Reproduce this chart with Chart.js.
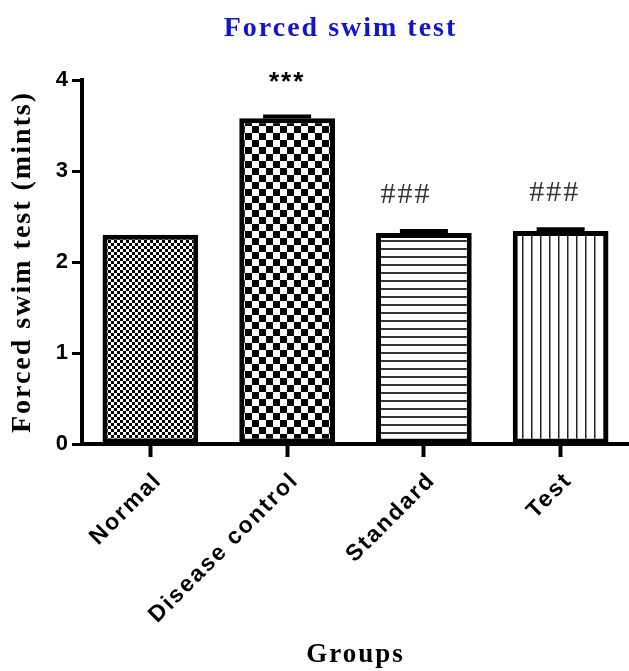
<!DOCTYPE html>
<html>
<head>
<meta charset="utf-8">
<title>Forced swim test</title>
<script src="https://cdn.jsdelivr.net/npm/chart.js@4.4.1/dist/chart.umd.min.js"></script>
<style>
  html, body { margin: 0; padding: 0; background: #fff; }
  #wrap { width: 629px; height: 671px; }
</style>
</head>
<body>
<div id="wrap"><canvas id="swimChart"></canvas></div>
<script>
// data
const groups = ['Normal', 'Disease control', 'Standard', 'Test'];
const meanMinutes = [2.30, 3.58, 2.32, 2.34];
const semMinutes = [0, 0.02, 0.02, 0.02];
const markers = ['', '***', '###', '###'];
const yTicks = [0, 1, 2, 3, 4];

const serif = '"Liberation Serif", "Times New Roman", serif';
const sans = '"Liberation Sans", Arial, sans-serif';

// fill patterns like the GraphPad bars
function makePattern(kind) {
  const c = document.createElement('canvas');
  const g = c.getContext('2d');
  if (kind === 'fineCheck' || kind === 'bigCheck') {
    const s = kind === 'fineCheck' ? 3 : 7;
    c.width = c.height = s * 2;
    g.fillStyle = '#fff';
    g.fillRect(0, 0, s * 2, s * 2);
    g.fillStyle = '#000';
    g.fillRect(0, 0, s, s);
    g.fillRect(s, s, s, s);
  } else if (kind === 'hLines') {
    c.width = 8; c.height = 8;
    g.fillStyle = '#fff';
    g.fillRect(0, 0, 8, 8);
    g.fillStyle = '#333';
    g.fillRect(0, 0, 8, 2);
  } else {
    c.width = 9; c.height = 8;
    g.fillStyle = '#fff';
    g.fillRect(0, 0, 9, 8);
    g.fillStyle = '#222';
    g.fillRect(0, 0, 1.5, 8);
  }
  return g.createPattern(c, 'repeat');
}

const fills = [makePattern('fineCheck'), makePattern('bigCheck'), makePattern('hLines'), makePattern('vLines')];

const swimDecor = {
  id: 'swimDecor',
  beforeLayout(chart) { chart.ctx.letterSpacing = '2px'; },
  beforeDraw(chart) { chart.ctx.letterSpacing = '2px'; },
  afterDatasetsDraw(chart) {
    const ctx = chart.ctx;
    const y = chart.scales.y;
    const meta = chart.getDatasetMeta(0);
    ctx.save();
    ctx.strokeStyle = '#000';
    ctx.lineWidth = 4;
    meta.data.forEach((bar, i) => {
      if (!semMinutes[i]) return;
      const top = y.getPixelForValue(meanMinutes[i] + semMinutes[i]);
      const mid = y.getPixelForValue(meanMinutes[i]);
      ctx.beginPath();
      ctx.moveTo(bar.x, mid);
      ctx.lineTo(bar.x, top);
      ctx.moveTo(bar.x - 24, top);
      ctx.lineTo(bar.x + 24, top);
      ctx.stroke();
    });
    ctx.restore();
  },
  afterDraw(chart, args, opts) {
    const ctx = chart.ctx;
    const area = chart.chartArea;
    const y = chart.scales.y;
    const meta = chart.getDatasetMeta(0);
    ctx.save();
    ctx.letterSpacing = '2px';
    // title
    ctx.fillStyle = '#1515c8';
    ctx.font = 'bold 28px ' + serif;
    ctx.textAlign = 'center';
    ctx.textBaseline = 'alphabetic';
    ctx.fillText('Forced swim test', (area.left + area.right) / 2 - 15, 36);
    // significance marks
    ctx.textBaseline = 'middle';
    meta.data.forEach((bar, i) => {
      if (!markers[i]) return;
      const top = y.getPixelForValue(meanMinutes[i] + semMinutes[i]);
      const star = markers[i][0] === '*';
      ctx.font = star ? 'bold 26px ' + sans : '30px ' + serif;
      ctx.fillStyle = star ? '#000' : '#333';
      ctx.fillText(markers[i], bar.x + opts.shift[i], top - (star ? 34 : 36));
    });
    ctx.restore();
  }
};

new Chart(document.getElementById('swimChart'), {
  type: 'bar',
  data: {
    labels: groups,
    datasets: [{
      data: meanMinutes,
      backgroundColor: fills,
      borderColor: '#000',
      borderWidth: 5,
      borderSkipped: false,
      categoryPercentage: 1,
      barPercentage: 0.7
    }]
  },
  options: {
    responsive: true,
    maintainAspectRatio: false,
    animation: false,
    devicePixelRatio: 1,
    layout: { padding: { top: 80, right: 0, left: 0, bottom: 0 } },
    plugins: {
      legend: { display: false },
      tooltip: { enabled: false },
      swimDecor: { shift: [0, 0, -18, -6] }
    },
    scales: {
      x: {
        grid: { drawOnChartArea: false, offset: false, tickLength: 13, tickWidth: 4, tickColor: '#000', color: '#000' },
        border: { display: true, color: '#000', width: 4 },
        ticks: {
          autoSkip: false, minRotation: 45, maxRotation: 45, padding: 10, labelOffset: 8, color: '#000',
          font: { family: sans, size: 23, weight: 'bold' }
        },
        title: {
          display: true, text: 'Groups', color: '#000', padding: 0,
          font: { family: serif, size: 27, weight: 'bold' }
        },
        afterFit(scale) { scale.height = 227; }
      },
      y: {
        min: 0, max: 4,
        afterBuildTicks(scale) { scale.ticks = yTicks.map(v => ({ value: v })); },
        grid: { drawOnChartArea: false, tickLength: 10, tickWidth: 3, tickColor: '#000', color: '#000' },
        border: { display: true, color: '#000', width: 4 },
        ticks: { padding: 2, color: '#000', font: { family: sans, size: 22, weight: 'bold' } },
        title: {
          display: true, text: 'Forced swim test (mints)', color: '#000', padding: { top: 6, bottom: 0 },
          font: { family: serif, size: 28, weight: 'bold' }
        },
        afterFit(scale) { scale.width = 82; }
      }
    }
  },
  plugins: [swimDecor]
});
</script>
</body>
</html>
